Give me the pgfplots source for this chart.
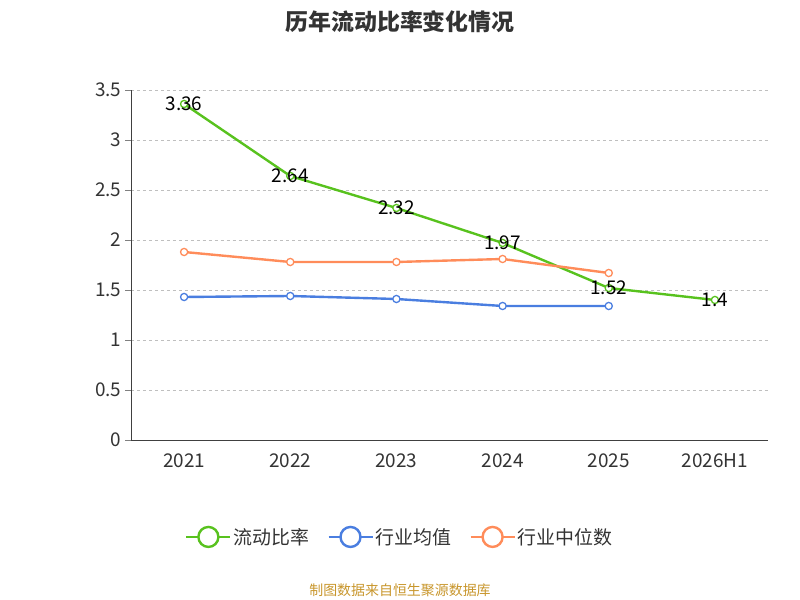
\documentclass[border=0pt]{standalone}
\usepackage{pgfplots}
\pgfplotsset{compat=1.18}
\usepackage{fontspec}
\setmainfont{Noto Sans CJK SC}
\definecolor{cg}{HTML}{58C21E}
\definecolor{cb}{HTML}{4A7EE0}
\definecolor{co}{HTML}{FF8C5A}
\definecolor{src}{HTML}{C8962C}
\begin{document}
\begin{tikzpicture}[x=1bp,y=1bp]
\useasboundingbox (0,0) rectangle (800,600);
\node[font=\fontsize{23}{27}\selectfont\bfseries, text=black!80] at (400,578) {历年流动比率变化情况};
\node[font=\fontsize{14}{16}\selectfont, text=src] at (400,10) {制图数据来自恒生聚源数据库};
\begin{axis}[
  at={(131bp,160bp)}, anchor=south west,
  scale only axis, width=637bp, height=350bp,
  xmin=-0.5, xmax=5.5, ymin=0, ymax=3.5,
  axis x line*=bottom, axis y line*=left,
  axis line style={black!75},
  xtick={0,...,5}, xticklabels={2021,2022,2023,2024,2025,2026H1},
  major x tick style={draw=none},
  extra x ticks={-0.5,0.5,1.5,2.5,3.5,4.5,5.5}, extra x tick labels={},
  extra x tick style={tick align=outside, major tick length=6bp, tick style={black!75}, grid=none},
  ytick={0,0.5,...,3.5},
  yticklabels={0,0.5,1,1.5,2,2.5,3,3.5},
  tick align=outside, major tick length=6bp,
  ymajorgrids, grid style={dashed, gray!50, line width=0.8pt},
  tick label style={font=\fontsize{19}{22}\selectfont, text=black!80},
  /pgf/number format/assume math mode=true,
  xticklabel style={yshift=-4bp},
  legend columns=3,
  legend style={at={(0.422,-0.277)}, anchor=center, draw=none, fill=none,
    font=\fontsize{19}{22}\selectfont, text=black!80,
    /tikz/every even column/.append style={column sep=16bp}},
  legend image code/.code={\draw[#1] (0bp,0bp) -- (44bp,0bp); \draw[#1, fill=white] (22bp,0bp) circle (10bp);},
  every axis plot/.append style={line width=2.4pt, mark=*, mark size=3.6pt, mark options={fill=white, line width=1.3pt}},
]
\addplot[cg, nodes near coords, point meta=explicit symbolic,
  every node near coord/.style={anchor=center, text=black, font=\fontsize{19}{22}\selectfont}]
  coordinates {(0,3.36)[3.36] (1,2.64)[2.64] (2,2.32)[2.32] (3,1.97)[1.97] (4,1.52)[1.52] (5,1.4)[1.4]};
\addlegendentry{流动比率}
\addplot[cb] coordinates {(0,1.43) (1,1.44) (2,1.41) (3,1.34) (4,1.34)};
\addlegendentry{行业均值}
\addplot[co] coordinates {(0,1.88) (1,1.78) (2,1.78) (3,1.81) (4,1.67)};
\addlegendentry{行业中位数}
\end{axis}
\end{tikzpicture}
\end{document}
